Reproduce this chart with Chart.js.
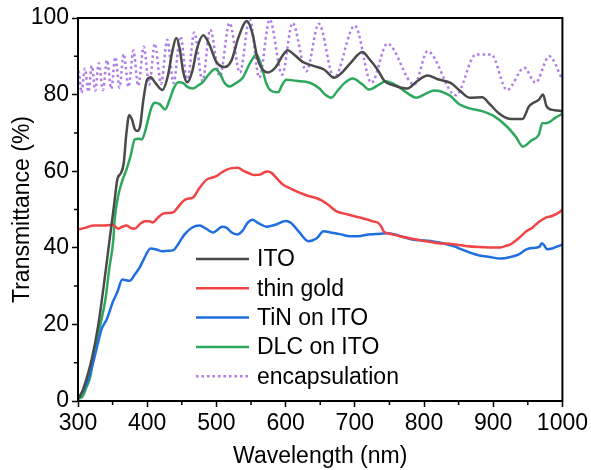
<!DOCTYPE html>
<html>
<head>
<meta charset="utf-8">
<script src="https://cdn.jsdelivr.net/npm/chart.js@4.4.0/dist/chart.umd.min.js"></script>
<style>
  html, body { margin: 0; padding: 0; background: #fff; }
  #wrap { width: 591px; height: 470px; }
</style>
</head>
<body>
<div id="wrap"><canvas id="myChart" width="591" height="470"></canvas></div>
<script>
// values (wavelength in nm, transmittance in %)
var seriesNames = ['ITO', 'thin gold', 'TiN on ITO', 'DLC on ITO', 'encapsulation'];

var itoWl = [300, 305, 312, 320, 329, 340, 347, 352, 357, 362, 366, 370, 374, 378, 382, 386, 390, 394, 400, 405, 412, 422, 430, 436, 442, 447, 452, 458, 465, 472, 481, 490, 500, 512, 522, 532, 544, 552, 560, 574, 585, 595, 603, 612, 625, 640, 656, 670, 680, 695, 711, 720, 733, 743, 755, 776, 790, 805, 820, 839, 852, 866, 884, 895, 909, 923, 942, 952, 966, 972, 977, 986, 998, 1000];
var itoT  = [0.5, 2, 5.6, 11, 19.5, 34, 44, 51, 58, 59.5, 62, 70, 74.6, 73.5, 71, 70.5, 72, 78, 84, 84.5, 83, 81.2, 85, 91, 94.8, 92, 86, 83.2, 86, 92, 95.5, 93, 88.5, 87.2, 89, 95, 99.2, 96, 89, 85.8, 87, 90, 91.6, 90.5, 88.5, 87.5, 86.5, 84.4, 85.5, 88.5, 91.1, 89.5, 86.5, 83.5, 82.5, 81.6, 83.5, 85, 84, 83, 81, 79.2, 79.3, 77.5, 75, 73.7, 73.6, 77, 78.7, 80, 77, 76, 75.7, 75.5];

var goldWl = [300, 310, 323, 336, 350, 358, 364, 370, 376, 382, 390, 397, 403, 408, 415, 423, 430, 437, 444, 452, 458, 466, 475, 486, 493, 500, 507, 515, 522, 531, 540, 548, 555, 563, 568, 574, 580, 588, 596, 608, 620, 632, 644, 652, 661, 673, 690, 707, 718, 726, 733, 738, 742, 752, 765, 785, 800, 820, 840, 860, 880, 894, 910, 920, 926, 938, 948, 957, 965, 976, 985, 998, 1000];
var goldT  = [44.8, 45.2, 45.8, 45.8, 46, 45, 45.5, 45.8, 45.2, 45, 46.3, 46.9, 46.9, 46.6, 47.8, 48.9, 49.1, 49.2, 50.5, 52.2, 52.8, 53.1, 55.5, 57.8, 58.3, 58.7, 59.6, 60.4, 60.8, 60.9, 60, 59.4, 59, 59.1, 59.6, 59.9, 59.5, 58, 56.5, 55.4, 54.4, 53.6, 53, 52.4, 51.3, 49.6, 48.7, 47.9, 47.4, 46.9, 46.6, 45.6, 44.2, 43.6, 43, 42.3, 41.8, 41.2, 41, 40.5, 40.2, 40.1, 40.1, 40.6, 41, 42.7, 44.3, 45.3, 46.6, 47.9, 48.3, 49.6, 50];

var tinWl = [300, 305, 310, 318, 326, 334, 342, 350, 357, 364, 370, 375, 382, 389, 395, 405, 412, 421, 430, 438, 445, 454, 465, 476, 485, 495, 501, 508, 515, 522, 530, 538, 545, 552, 560, 573, 585, 600, 608, 620, 633, 645, 655, 665, 680, 693, 705, 720, 731, 745, 758, 770, 785, 800, 815, 829, 845, 855, 867, 880, 895, 910, 925, 937, 948, 960, 967, 970, 973, 978, 985, 992, 1000];
var tinT  = [0.8, 2, 3.5, 7.4, 13, 18.7, 21.5, 25.7, 28.5, 31.7, 31.5, 31.4, 33, 34.8, 37, 39.8, 39.6, 39.1, 39.2, 39.4, 41, 43.5, 45.3, 45.8, 45, 44, 44.6, 45.5, 45.2, 44, 43.5, 44.5, 46.5, 47.3, 46.5, 45.5, 46, 47, 46.5, 44, 41.7, 42.5, 44.3, 44, 43.5, 43, 43, 43.5, 43.6, 43.8, 43.5, 42.8, 42.1, 41.9, 41.6, 41.1, 40.3, 39.5, 38.7, 38, 37.6, 37.2, 37.6, 38.3, 39.6, 40, 40.3, 41.2, 40.8, 39.6, 39.8, 40.3, 40.8];

var dlcWl = [300, 307, 312, 318, 323, 334, 340, 345, 351, 353, 358, 364, 370, 376, 382, 388, 392, 397, 402, 407, 411, 418, 426, 432, 438, 445, 452, 458, 466, 473, 480, 490, 498, 505, 512, 519, 528, 538, 548, 558, 565, 572, 577, 589, 595, 601, 615, 635, 649, 657, 666, 675, 685, 697, 710, 721, 733, 745, 760, 775, 789, 800, 815, 837, 851, 866, 884, 900, 919, 933, 943, 955, 966, 971, 975, 981, 990, 998, 1000];
var dlcT  = [0.5, 1.3, 3.5, 6.5, 12.7, 21.3, 27, 34.3, 42, 47.4, 53.5, 57.5, 60.4, 64, 68.3, 68.5, 68.3, 70.4, 74, 77, 77.9, 77.5, 76.1, 78.5, 81.5, 83.2, 83, 82, 81.6, 82.3, 83.2, 85.5, 86.7, 85.5, 83, 82.1, 83, 84.4, 88, 90.5, 87.5, 83, 81.3, 80.6, 82.5, 83.9, 83.6, 83.1, 81.6, 80, 79.2, 81, 83, 84.2, 82.8, 81.3, 82.4, 83.5, 82.4, 80.5, 79.2, 80, 81.1, 79.8, 77.5, 76.4, 75.7, 74.5, 71.8, 68.9, 66.4, 68, 69.6, 72.6, 72.5, 72.8, 74, 74.8, 75];

var encWl = [300, 301, 305, 310, 315, 320, 325, 330, 336, 342, 348, 354, 360, 366, 373, 380, 387, 395, 403, 411, 420, 429, 438, 448, 458, 468, 480, 491, 505, 519, 534, 548, 562, 577, 595, 610, 630, 648, 670, 700, 724, 747, 786, 805, 846, 875, 897, 920, 945, 961, 981, 1000];
var encT  = [83, 86, 80.5, 86.8, 80.7, 87.5, 81, 88.2, 81.2, 89, 81.5, 89.8, 81.8, 90.6, 82, 91.5, 82.3, 92.5, 82.6, 93.3, 82.8, 94.3, 83, 95.2, 83.3, 96.2, 83.5, 97, 84.8, 98.7, 85.7, 99.8, 84.4, 99.6, 85.2, 98.7, 86.1, 98.5, 84.4, 98, 83.1, 93.3, 82.6, 91.3, 79.8, 90.5, 90.5, 81.2, 87, 83.1, 90, 83.9];

var xTicks = [300, 1000, 100];
var yTicks = [0, 100, 20];

function pts(wl, t) {
  return wl.map(function (w, i) { return { x: w, y: t[i] }; });
}

var FONT = "'Liberation Sans', Arial, sans-serif";

// minor ticks + closed frame
var framePlugin = {
  id: 'frame',
  afterDraw: function (chart) {
    var ctx = chart.ctx, a = chart.chartArea;
    var xs = chart.scales.x, ys = chart.scales.y;
    ctx.save();
    ctx.strokeStyle = '#000';
    ctx.lineWidth = 1.5;
    ctx.beginPath();
    for (var v = 350; v < 1000; v += 100) {
      var px = xs.getPixelForValue(v);
      ctx.moveTo(px, a.bottom);
      ctx.lineTo(px, a.bottom + 4);
    }
    for (var u = 10; u < 100; u += 20) {
      var py = ys.getPixelForValue(u);
      ctx.moveTo(a.left, py);
      ctx.lineTo(a.left - 4, py);
    }
    ctx.stroke();
    ctx.lineWidth = 2;
    ctx.strokeRect(a.left, a.top, a.right - a.left, a.bottom - a.top);
    ctx.restore();
  }
};

// legend drawn inside the plot, lower middle
var legendPlugin = {
  id: 'insideLegend',
  afterDraw: function (chart) {
    var ctx = chart.ctx, a = chart.chartArea;
    ctx.save();
    ctx.font = '23px ' + FONT;
    ctx.textBaseline = 'middle';
    ctx.fillStyle = '#000';
    chart.data.datasets.forEach(function (ds, i) {
      var y = 259 + i * 29.3;
      var x0 = a.left + 118;
      ctx.strokeStyle = ds.borderColor;
      ctx.lineWidth = 2.5;
      ctx.setLineDash(ds.borderDash || []);
      ctx.beginPath();
      ctx.moveTo(x0, y);
      ctx.lineTo(x0 + 53, y);
      ctx.stroke();
      ctx.setLineDash([]);
      ctx.fillText(ds.label, x0 + 61, y + 1);
    });
    ctx.restore();
  }
};

function makeSet(i, wl, t, color, dash) {
  var d = {
    label: seriesNames[i],
    data: pts(wl, t),
    borderColor: color,
    borderWidth: 2.5,
    pointRadius: 0,
    fill: false,
    cubicInterpolationMode: 'monotone'
  };
  if (dash) { d.borderDash = dash; }
  return d;
}

function plainLabel(v) { return String(v); }

var ctx = document.getElementById('myChart');
var myChart = new Chart(ctx, {
  type: 'line',
  data: {
    datasets: [
      makeSet(0, itoWl, itoT, '#4a4a4a'),
      makeSet(1, goldWl, goldT, '#f04446'),
      makeSet(2, tinWl, tinT, '#1f6fe0'),
      makeSet(3, dlcWl, dlcT, '#2ea85c'),
      makeSet(4, encWl, encT, '#b07de8', [2.5, 3])
    ]
  },
  options: {
    responsive: false,
    animation: false,
    devicePixelRatio: 1,
    layout: { padding: { top: 18, right: 28, left: 0, bottom: 0 } },
    plugins: { legend: { display: false }, tooltip: { enabled: false } },
    scales: {
      x: {
        type: 'linear',
        min: xTicks[0], max: xTicks[1],
        afterFit: function (s) { s.height = 69; },
        ticks: { stepSize: xTicks[2], color: '#000', font: { family: FONT, size: 23 }, padding: 3, maxRotation: 0, callback: plainLabel },
        grid: { drawOnChartArea: false, drawTicks: true, tickLength: 6, tickColor: '#000', tickWidth: 1.5 },
        border: { display: true, color: '#000', width: 2 },
        title: { display: true, text: 'Wavelength (nm)', color: '#000', font: { family: FONT, size: 23 }, padding: { top: 0, bottom: 0 } }
      },
      y: {
        min: yTicks[0], max: yTicks[1],
        afterFit: function (s) { s.width = 78; },
        ticks: { stepSize: yTicks[2], color: '#000', font: { family: FONT, size: 23 }, padding: 3, callback: plainLabel },
        grid: { drawOnChartArea: false, drawTicks: true, tickLength: 6, tickColor: '#000', tickWidth: 1.5 },
        border: { display: true, color: '#000', width: 2 },
        title: { display: true, text: 'Transmittance (%)', color: '#000', font: { family: FONT, size: 23 }, padding: { top: 9, bottom: 0 } }
      }
    }
  },
  plugins: [framePlugin, legendPlugin]
});
</script>
</body>
</html>
